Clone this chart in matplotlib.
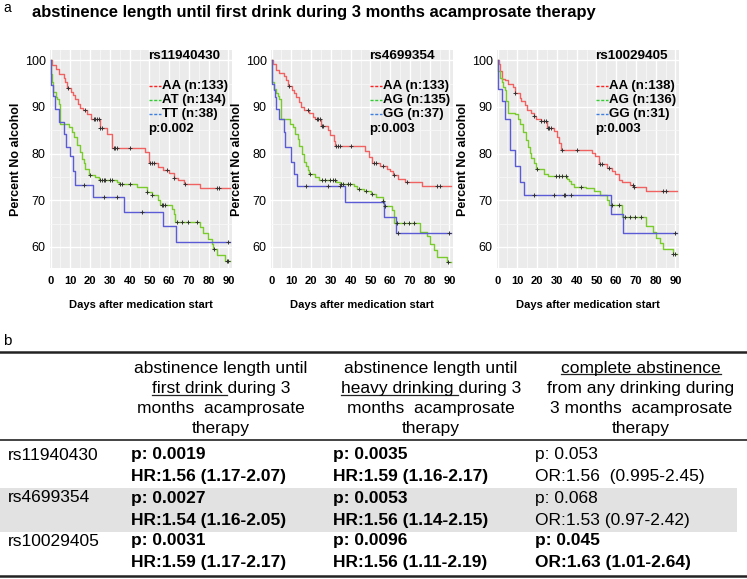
import matplotlib
matplotlib.use("Agg")
import matplotlib.pyplot as plt
from matplotlib.lines import Line2D
from matplotlib.patches import Rectangle
from matplotlib.ticker import MultipleLocator
import numpy as np

plt.rcParams['font.family'] = ['Liberation Sans', 'DejaVu Sans']

# ---------------- panel a : Kaplan-Meier curves ----------------
title_a = "abstinence length until first drink during 3 months acamprosate therapy"
snp_ids = ["rs11940430", "rs4699354", "rs10029405"]
p_texts = ["p:0.002", "p:0.003", "p:0.003"]
group_texts = [
    ["AA (n:133)", "AT (n:134)", "TT (n:38)"],
    ["AA (n:133)", "AG (n:135)", "GG (n:37)"],
    ["AA (n:138)", "AG (n:136)", "GG (n:31)"],
]

# rs11940430
s1_aa_t = [0, 0.5, 2.5, 4.2, 6.7, 7.2, 8.4, 10.1, 11.3, 12.3, 13.9, 15.1, 16.5, 18.5, 20.7, 25.2,
           28.6, 31.1, 47.9, 49.6, 54.6, 57.1, 59.7, 62.2, 64.7, 67.7, 75.6]
s1_aa_v = [100, 98.9, 98.1, 97.1, 96.2, 95.4, 94.1, 93.2, 92.5, 91.6, 90.7, 89.8, 89.3, 88.4, 87.5, 85.4,
           84.3, 81.2, 80.4, 77.9, 77.1, 76.6, 75.9, 74.8, 74.3, 73.6, 72.6]
s1_aa_c = [8.7, 17.6, 21.8, 22.7, 23.5, 24.4, 25.2, 26, 32, 32.8, 33.6, 40.3, 50.4, 51.3, 52.1, 58.8,
           62.7, 68, 84, 85.2]
s1_at_t = [0, 0.05, 0.5, 1.2, 2.5, 3.4, 4.2, 4.7, 9.2, 10.6, 11.8, 13.4, 15.1, 16.0, 16.8, 17.6, 19.3,
           22.7, 24.4, 33.6, 34.5, 43.7, 48.7, 51.3, 54.6, 55.5, 61.3, 62.2, 63.0, 75.6, 77.3, 79.8,
           81.5, 82.4, 84.0, 88.2]
s1_at_v = [100, 97.1, 95.4, 93.2, 92.1, 91.8, 90.7, 86.4, 85.7, 84.6, 83.6, 81.8, 80.4, 78.9, 77.9, 76.8,
           75.4, 75.0, 74.3, 73.9, 73.6, 72.9, 71.8, 71.1, 70.0, 68.9, 68.2, 67.1, 65.4, 64.3, 62.9,
           61.8, 60.7, 59.6, 58.2, 57.1]
s1_at_c = [19.7, 25.2, 26, 26.9, 27.7, 30.3, 31.1, 35.3, 36.1, 40.3, 48.9, 51.5, 56.3, 57.1, 58,
           63.9, 66.4, 69.7, 73.9, 82.6, 89.1, 90]
s1_tt_t = [0, 0.05, 1.2, 2.2, 4.3, 6.7, 7.6, 10.0, 11.5, 12.6, 21.3, 37.0, 57.1, 63.5]
s1_tt_v = [100, 94.8, 92.4, 89.6, 86.7, 84.3, 81.5, 79.5, 76.3, 73.3, 70.8, 67.6, 64.4, 61.0]
s1_tt_c = [16.8, 26.9, 33.6, 46.2, 90]

# rs4699354
s2_aa_t = [0, 0.7, 2.0, 3.7, 6.2, 7.1, 8.4, 10.1, 11.3, 12.1, 13.8, 15.1, 16.3, 18.8, 20.8, 22.2,
           25.2, 28.6, 29.7, 31.4, 32.3, 47.4, 49.1, 50.8, 55.0, 58.3, 60.0, 61.2, 64.2, 67.6, 76.0]
s2_aa_v = [100, 99.3, 98.0, 97.3, 96.6, 95.7, 94.4, 93.6, 92.9, 92.1, 91.1, 90.0, 89.4, 88.6, 87.9, 87.5,
           85.9, 85.0, 83.9, 82.7, 81.6, 80.6, 79.3, 78.0, 77.3, 76.8, 76.3, 75.4, 74.6, 73.9, 73.0]
s2_aa_c = [9, 18.3, 22.8, 23.7, 24.5, 25.3, 26.2, 32.8, 33.7, 34.5, 40, 51.7, 52.8, 56.2, 62,
           68.7, 83.7, 85.3]
s2_ag_t = [0, 0.05, 0.3, 1.2, 2.3, 3.3, 4.0, 5.0, 9.5, 10.7, 11.7, 13.3, 14.0, 15.3, 16.2, 17.3, 18.3,
           19.0, 22.0, 24.0, 32.8, 34.5, 41.7, 43.3, 47.0, 50.3, 52.8, 56.2, 57.0, 60.7, 62.0, 75.3,
           78.7, 80.3, 82.0, 83.7, 88.7]
s2_ag_v = [100, 97.1, 95.4, 93.9, 92.9, 92.3, 91.6, 87.5, 86.4, 85.7, 84.3, 83.2, 81.6, 80.0, 78.2, 77.3,
           76.4, 75.7, 75.1, 74.3, 73.9, 73.4, 73.0, 72.5, 72.0, 71.4, 70.7, 69.9, 68.7, 67.9, 65.1,
           63.2, 62.3, 60.7, 59.3, 57.9, 56.8]
s2_ag_c = [19.5, 25.3, 27, 29.5, 31.2, 32, 35, 36.2, 38.7, 39.5, 44, 47.8, 50.7, 56.2, 57.3, 63.7,
           67, 69.5, 72, 89.5]
s2_gg_t = [0, 0.05, 1.2, 1.7, 2.3, 4.0, 6.2, 7.0, 10.0, 11.2, 12.8, 37.3, 57.0, 62.8]
s2_gg_v = [100, 94.9, 93.6, 92.1, 89.6, 87.5, 84.6, 81.4, 78.2, 75.7, 73.0, 69.6, 66.4, 63.0]
s2_gg_c = [17.3, 28.3, 34.5, 64, 90]

# rs10029405
s3_aa_t = [0, 0.7, 1.2, 2.3, 3.7, 5.3, 7.8, 8.7, 11.2, 12.0, 14.0, 15.0, 17.0, 18.3, 19.5, 22.0,
           25.0, 28.3, 30.0, 31.2, 32.0, 47.8, 49.5, 51.2, 55.3, 57.8, 59.5, 61.2, 62.8, 67.0, 68.7, 75.3]
s3_aa_v = [100, 99.1, 97.7, 96.0, 95.7, 95.0, 94.3, 92.9, 91.9, 91.2, 90.5, 89.4, 88.8, 88.1, 87.4, 86.9,
           85.5, 84.8, 83.6, 82.2, 80.8, 80.1, 79.4, 77.7, 77.0, 76.3, 75.7, 74.3, 73.9, 73.2, 72.9, 71.9]
s3_aa_c = [9, 18.3, 22, 23.3, 24.5, 25.3, 26.2, 27, 32.8, 40.3, 51.7, 52.8, 56.2, 68.3, 69, 83.7, 85.3]
s3_ag_t = [0, 0.05, 1.2, 2.0, 2.8, 4.0, 4.5, 5.3, 9.0, 10.3, 11.2, 12.8, 14.5, 15.3, 16.2, 17.0, 18.3,
           19.5, 23.7, 25.3, 35.3, 36.2, 37.0, 38.7, 44.5, 48.7, 52.0, 55.3, 56.2, 62.8, 75.3, 78.7,
           80.3, 82.0, 83.7, 88.7]
s3_ag_v = [100, 97.7, 96.3, 95.3, 94.3, 93.6, 91.2, 88.8, 88.4, 87.4, 86.3, 84.6, 82.9, 81.5, 80.1, 79.1,
           78.1, 76.7, 75.7, 75.2, 74.6, 74.1, 73.6, 72.9, 72.6, 71.9, 71.2, 70.1, 69.1, 66.5, 64.4,
           63.3, 61.9, 60.8, 59.5, 58.4]
s3_ag_c = [20, 29.5, 31.2, 32.8, 34.5, 42.3, 57.8, 61.2, 64.5, 67, 69.5, 72.8, 88.7, 90]
s3_gg_t = [0, 0.05, 2.3, 3.7, 6.2, 9.0, 11.2, 13.3, 57.3, 63.3]
s3_gg_v = [100, 93.9, 91.2, 87.4, 80.8, 77.4, 73.9, 71.2, 67.0, 62.9]
s3_gg_c = [18.3, 28.3, 33.7, 34.2, 37.3, 90]

curves = [
    [(s1_aa_t, s1_aa_v, s1_aa_c), (s1_at_t, s1_at_v, s1_at_c), (s1_tt_t, s1_tt_v, s1_tt_c)],
    [(s2_aa_t, s2_aa_v, s2_aa_c), (s2_ag_t, s2_ag_v, s2_ag_c), (s2_gg_t, s2_gg_v, s2_gg_c)],
    [(s3_aa_t, s3_aa_v, s3_aa_c), (s3_ag_t, s3_ag_v, s3_ag_c), (s3_gg_t, s3_gg_v, s3_gg_c)],
]

# ---------------- panel b : table ----------------
col_headers = [
    ["abstinence length until", "first drink during 3", "months  acamprosate", "therapy"],
    ["abstinence length until", "heavy drinking during 3", "months  acamprosate", "therapy"],
    ["complete abstinence", "from any drinking during", "3 months  acamprosate", "therapy"],
]
header_underlined = [(1, "first drink"), (1, "heavy drinking"), (0, "complete abstinence")]
row_snps = ["rs11940430", "rs4699354", "rs10029405"]
cell_p = [["p: 0.0019", "p: 0.0035", "p: 0.053"],
          ["p: 0.0027", "p: 0.0053", "p: 0.068"],
          ["p: 0.0031", "p: 0.0096", "p: 0.045"]]
cell_ratio = [["HR:1.56 (1.17-2.07)", "HR:1.59 (1.16-2.17)", "OR:1.56  (0.995-2.45)"],
              ["HR:1.54 (1.16-2.05)", "HR:1.56 (1.14-2.15)", "OR:1.53 (0.97-2.42)"],
              ["HR:1.59 (1.17-2.17)", "HR:1.56 (1.11-2.19)", "OR:1.63 (1.01-2.64)"]]
cell_bold = [[True, True, False],
             [True, True, False],
             [True, True, True]]

# ---------------- figure ----------------
W, H = 747, 579
fig = plt.figure(figsize=(W / 100, H / 100), dpi=100)

def fx(x):
    return x / W

def fy(y):
    return 1 - y / H

curve_colors = ["#f06262", "#7acb2c", "#5b5bd6"]
legend_colors = ["#ff2222", "#33cc33", "#3d7fe0"]
panel_left = [50, 271, 497]

fig.text(fx(3), fy(8), "a", fontsize=10, va="center", ha="left")
fig.text(fx(32), fy(13), title_a, fontsize=11.9, fontweight="bold", va="center", ha="left")

for k in range(3):
    ax = fig.add_axes([fx(panel_left[k]), fy(268), 182 / W, 218 / H])
    ax.set_facecolor("#ebebeb")
    for sp in ax.spines.values():
        sp.set_visible(False)
    ax.set_xlim(-0.3, 91.8)
    ax.set_ylim(55.5, 102.2)
    ax.xaxis.set_major_locator(MultipleLocator(10))
    ax.xaxis.set_minor_locator(MultipleLocator(5))
    ax.set_yticks([60, 70, 80, 90, 100])
    ax.yaxis.set_minor_locator(MultipleLocator(5))
    ax.grid(True, which="major", color="white", lw=1.0)
    ax.grid(True, which="minor", color="#f7f7f7", lw=0.6)
    ax.set_axisbelow(True)
    ax.tick_params(which="both", length=0)
    ax.tick_params(axis="x", pad=6, labelsize=8)
    ax.tick_params(axis="y", pad=3, labelsize=9)
    for lb in ax.get_xticklabels():
        lb.set_fontweight("bold")

    for (t, v, c), col in zip(curves[k], curve_colors):
        t_end = 90.6
        tt = np.array(list(t) + [t_end])
        vv = np.array(list(v) + [v[-1]])
        ax.step(tt, vv, where="post", color=col, lw=1.0, zorder=3)
        idx = np.searchsorted(tt, c, side="right") - 1
        ax.plot(c, vv[idx], ls="none", marker="+", ms=2.5, mew=0.7, color="#333333", zorder=4)

    ax.set_ylabel("Percent No alcohol", fontsize=9, fontweight="bold")
    ax.yaxis.set_label_coords(-0.155, 0.5)
    ax.set_xlabel("Days after medication start", fontsize=8, fontweight="bold")
    ax.xaxis.set_label_coords(0.5, -0.17)
    ax.xaxis.label.set_va("center")

    # legend block inside the panel
    ax.text(0.54, 0.972, snp_ids[k], transform=ax.transAxes, fontsize=9.7,
            fontweight="bold", va="center", ha="left")
    for j, lab in enumerate(group_texts[k]):
        yy = 0.837 - j * 0.066
        ax.add_line(Line2D([0.545, 0.612], [yy, yy], transform=ax.transAxes, color=legend_colors[j],
                           lw=1.0, dashes=(2.2, 1.2)))
        ax.text(0.613, yy, lab, transform=ax.transAxes, fontsize=9.5, fontweight="bold",
                va="center", ha="left")
    ax.text(0.54, 0.637, p_texts[k], transform=ax.transAxes, fontsize=9.5,
            fontweight="bold", va="center", ha="left")

# ---- panel b ----
fig.text(fx(3), fy(341), "b", fontsize=11, va="center", ha="left")

fig.add_artist(Rectangle((0, fy(532)), fx(737), (532 - 488) / H, transform=fig.transFigure,
                         facecolor="#e2e2e2", edgecolor="none", zorder=0))
for yline, lw in [(352, 1.8), (440, 1.2), (576, 1.8)]:
    fig.add_artist(Line2D([0, 1], [fy(yline), fy(yline)], transform=fig.transFigure,
                          color="#222222", lw=lw))

col_center = [221, 431, 641]
col_left = [131, 333, 535]
header_y = [368, 389, 409, 429]
tab_fs = 12.5

fig.canvas.draw()
renderer = fig.canvas.get_renderer()

def text_width(s, **kw):
    tmp = fig.text(0, 0, s, **kw)
    w = tmp.get_window_extent(renderer).width
    tmp.remove()
    return w

space_w = text_width("x x", fontsize=tab_fs) - text_width("xx", fontsize=tab_fs)

for c in range(3):
    for i, line in enumerate(col_headers[c]):
        t = fig.text(fx(col_center[c]), fy(header_y[i]), line, fontsize=tab_fs,
                     ha="center", va="center")
        ul_row, ul_text = header_underlined[c]
        if i == ul_row:
            bb = t.get_window_extent(renderer)
            w = text_width(ul_text, fontsize=tab_fs)
            if ul_text != line:
                w += space_w
            y_ul = bb.y0 + 1.5
            fig.add_artist(Line2D([bb.x0 / W, (bb.x0 + w) / W], [y_ul / H, y_ul / H],
                                  transform=fig.transFigure, color="#222222", lw=0.9))

row_y = [(455, 477), (498, 520), (541, 563)]
for r in range(3):
    fig.text(fx(8), fy(row_y[r][0]), row_snps[r], fontsize=tab_fs, va="center", ha="left")
    for c in range(3):
        wt = "bold" if cell_bold[r][c] else "normal"
        fig.text(fx(col_left[c]), fy(row_y[r][0]), cell_p[r][c], fontsize=tab_fs,
                 fontweight=wt, va="center", ha="left")
        fig.text(fx(col_left[c]), fy(row_y[r][1]), cell_ratio[r][c], fontsize=tab_fs,
                 fontweight=wt, va="center", ha="left")

fig.savefig("out.png", dpi=100)
